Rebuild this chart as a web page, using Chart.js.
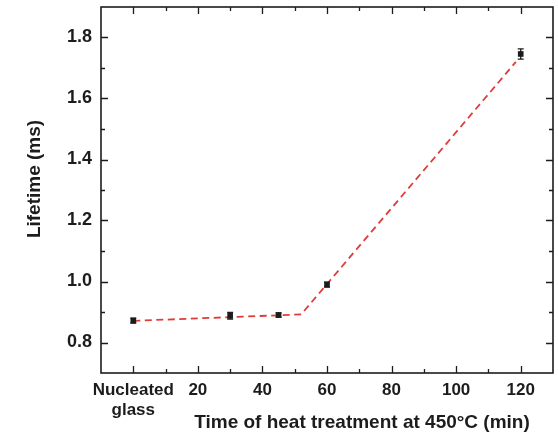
<!DOCTYPE html>
<html>
<head>
<meta charset="utf-8">
<script src="https://cdn.jsdelivr.net/npm/chart.js@4.4.1/dist/chart.umd.min.js"></script>
<style>
  html, body { margin: 0; padding: 0; background: #ffffff; }
  canvas { display: block; }
</style>
</head>
<body>
<canvas id="chart" width="558" height="433"></canvas>
<script>
// Measured lifetimes versus heat-treatment time (0 = nucleated glass)
const treatmentTime = [0, 30, 45, 60, 120];
const lifetime      = [0.872, 0.888, 0.890, 0.990, 1.746];
const lifetimeErr   = [0.008, 0.011, 0.007, 0.008, 0.017];

// Two-segment trend line (dashed)
const trendTime     = [0, 52, 118.5];
const trendLifetime = [0.871, 0.892, 1.720];

// Axis ticks
const xMajorTicks  = [0, 20, 40, 60, 80, 100, 120];
const xTickLabels  = [['Nucleated', 'glass'], '20', '40', '60', '80', '100', '120'];
const xMinorTicks  = [10, 30, 50, 70, 90, 110];
const yMajorTicks  = [0.8, 1.0, 1.2, 1.4, 1.6, 1.8];
const yTickLabels  = ['0.8', '1.0', '1.2', '1.4', '1.6', '1.8'];
const yMinorTicks  = [0.9, 1.1, 1.3, 1.5, 1.7];

const xTitle = 'Time of heat treatment at 450°C (min)';
const yTitle = 'Lifetime (ms)';

const INK = '#1c1c1c';
const FONT = '"Liberation Sans", Arial, sans-serif';

// Error bars for the measured points
const errorBars = {
  id: 'errorBars',
  afterDatasetsDraw(chart) {
    const { ctx, scales: { x, y } } = chart;
    ctx.save();
    ctx.strokeStyle = INK;
    ctx.lineWidth = 1.3;
    treatmentTime.forEach((t, i) => {
      const px = x.getPixelForValue(t);
      const top = y.getPixelForValue(lifetime[i] + lifetimeErr[i]);
      const bot = y.getPixelForValue(lifetime[i] - lifetimeErr[i]);
      ctx.beginPath();
      ctx.moveTo(px, top); ctx.lineTo(px, bot);
      ctx.moveTo(px - 3, top); ctx.lineTo(px + 3, top);
      ctx.moveTo(px - 3, bot); ctx.lineTo(px + 3, bot);
      ctx.stroke();
    });
    ctx.restore();
  }
};

// Frame with inward tick marks on all four sides, plus axis titles
const frame = {
  id: 'frame',
  afterDraw(chart) {
    const { ctx, chartArea: a, scales: { x, y } } = chart;
    ctx.save();
    ctx.strokeStyle = INK;
    ctx.lineWidth = 1.6;
    ctx.strokeRect(a.left, a.top, a.right - a.left, a.bottom - a.top);

    ctx.lineWidth = 1.3;
    ctx.beginPath();
    const xt = (v, len) => {
      const px = Math.round(x.getPixelForValue(v)) + 0.5;
      ctx.moveTo(px, a.bottom); ctx.lineTo(px, a.bottom - len);
      ctx.moveTo(px, a.top); ctx.lineTo(px, a.top + len);
    };
    const yt = (v, len) => {
      const py = Math.round(y.getPixelForValue(v)) + 0.5;
      ctx.moveTo(a.left, py); ctx.lineTo(a.left + len, py);
      ctx.moveTo(a.right, py); ctx.lineTo(a.right - len, py);
    };
    xMajorTicks.forEach(v => xt(v, 7));
    xMinorTicks.forEach(v => xt(v, 4));
    yMajorTicks.forEach(v => yt(v, 7));
    yMinorTicks.forEach(v => yt(v, 4));
    ctx.stroke();

    ctx.fillStyle = INK;
    ctx.font = 'bold 19px ' + FONT;
    ctx.textAlign = 'center';
    ctx.textBaseline = 'alphabetic';
    ctx.fillText(xTitle, (a.left + a.right) / 2 + 35, 428);

    ctx.translate(35, (a.top + a.bottom) / 2 - 11);
    ctx.rotate(-Math.PI / 2);
    ctx.textBaseline = 'middle';
    ctx.fillText(yTitle, 0, 0);
    ctx.restore();
  }
};

new Chart(document.getElementById('chart'), {
  type: 'scatter',
  data: {
    datasets: [
      {
        label: 'Lifetime',
        data: treatmentTime.map((t, i) => ({ x: t, y: lifetime[i] })),
        pointStyle: 'rect',
        pointRadius: 4,
        backgroundColor: INK,
        borderColor: INK,
        borderWidth: 0,
        showLine: false
      },
      {
        label: 'Trend',
        data: trendTime.map((t, i) => ({ x: t, y: trendLifetime[i] })),
        showLine: true,
        borderColor: '#e03c3a',
        borderWidth: 1.8,
        borderDash: [7, 4.5],
        pointRadius: 0,
        fill: false
      }
    ]
  },
  options: {
    responsive: false,
    animation: false,
    layout: { padding: { top: 7, right: 5, left: 0, bottom: 0 } },
    plugins: { legend: { display: false }, tooltip: { enabled: false } },
    scales: {
      x: {
        type: 'linear',
        min: -10,
        max: 130,
        afterBuildTicks: s => { s.ticks = xMajorTicks.map(v => ({ value: v })); },
        afterFit: s => { s.height = 60; s.paddingLeft = 0; s.paddingRight = 0; },
        grid: { display: false, drawTicks: false },
        border: { display: false },
        ticks: {
          autoSkip: false,
          maxRotation: 0,
          padding: 7,
          color: INK,
          font: { family: FONT, size: 17, weight: 'bold', lineHeight: 1.2 },
          callback: v => xTickLabels[xMajorTicks.indexOf(v)]
        }
      },
      y: {
        type: 'linear',
        min: 0.7,
        max: 1.9,
        afterBuildTicks: s => { s.ticks = yMajorTicks.map(v => ({ value: v })); },
        afterFit: s => { s.width = 101; s.paddingTop = 0; s.paddingBottom = 0; },
        grid: { display: false, drawTicks: false },
        border: { display: false },
        ticks: {
          padding: 9,
          color: INK,
          font: { family: FONT, size: 18, weight: 'bold' },
          callback: v => yTickLabels[yMajorTicks.findIndex(m => Math.abs(m - v) < 1e-9)]
        }
      }
    }
  },
  plugins: [errorBars, frame]
});
</script>
</body>
</html>
